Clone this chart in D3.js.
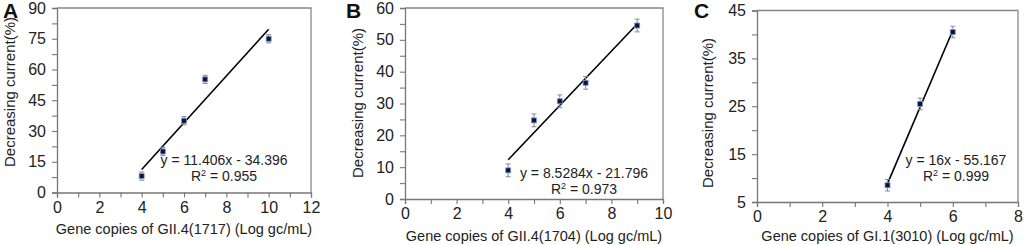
<!DOCTYPE html>
<html>
<head>
<meta charset="utf-8">
<script src="https://cdn.jsdelivr.net/npm/d3@7"></script>
<style>
  body { margin: 0; background: #fff; }
  svg { display: block; font-family: "Liberation Sans", Arial, sans-serif; }
</style>
</head>
<body>
<svg id="chart" width="1024" height="245"></svg>
<script>
// panel A - GII.4(1717)
const xA = [4, 5, 6, 7, 10];
const yA = [8, 20, 35, 55.2, 75];
const errA = [2, 2, 2, 2, 2];
// panel B - GII.4(1704)
const xB = [4, 5, 6, 7, 9];
const yB = [9, 24.7, 30.7, 36.5, 54.5];
const errB = [2, 2, 2, 2, 2];
// panel C - GI.1(3010)
const xC = [4, 5, 6];
const yC = [8.5, 25.5, 40.5];
const errC = [1.2, 1.2, 1.2];

const panelLetters = ["A", "B", "C"];
const xTitles = [
    "Gene copies of GII.4(1717) (Log gc/mL)",
    "Gene copies of GII.4(1704) (Log gc/mL)",
    "Gene copies of GI.1(3010) (Log gc/mL)"
];
const yTitle = "Decreasing current(%)";
const slopes = [11.406, 8.5284, 16];
const intercepts = [-34.396, -21.796, -55.167];
const eqTexts = ["y = 11.406x - 34.396", "y = 8.5284x - 21.796", "y = 16x - 55.167"];
const r2Texts = ["0.955", "0.973", "0.999"];

const panels = [
    { x: xA, y: yA, err: errA, xDom: [0, 12], yDom: [0, 90], yStep: 15, xr: [57, 311], yr: [192.5, 8],
      letter: [3, 18], yLab: [10, 92], eq: [224, 165, 181] },
    { x: xB, y: yB, err: errB, xDom: [0, 10], yDom: [0, 60], yStep: 10, xr: [405, 663], yr: [199, 8],
      letter: [346, 18], yLab: [358, 103], eq: [584, 178, 194] },
    { x: xC, y: yC, err: errC, xDom: [0, 8], yDom: [5, 45], yStep: 10, xr: [757, 1018], yr: [202, 10.5],
      letter: [694, 18], yLab: [708, 113], eq: [956, 165, 181] }
];

const svg = d3.select("#chart");

panels.forEach((p, i) => {
    const scX = d3.scaleLinear().domain(p.xDom).range(p.xr);
    const scY = d3.scaleLinear().domain(p.yDom).range(p.yr);

    // frame (top + right)
    svg.append("path")
        .attr("d", `M${p.xr[0]},${p.yr[1]}H${p.xr[1]}V${p.yr[0]}`)
        .attr("fill", "none")
        .attr("stroke", "#888")
        .attr("stroke-width", 1.3);

    // x axis: minor ticks every 1, labels on even
    const xMinor = d3.range(p.xDom[0], p.xDom[1] + 1, 1);
    const axX = svg.append("g")
        .attr("transform", `translate(0,${p.yr[0]})`)
        .call(d3.axisBottom(scX).tickValues(xMinor).tickSize(5).tickPadding(4)
            .tickFormat(d => d % 2 === 0 ? d : ""));
    axX.select(".domain").attr("stroke", "#777").attr("stroke-width", 1.3);
    axX.selectAll(".tick line").attr("stroke", "#777").attr("stroke-width", 1.1);
    axX.selectAll("text").attr("font-size", 16).attr("fill", "#222").attr("font-family", null);

    // y axis: major with labels, minor halfway
    const yMinor = d3.range(p.yDom[0], p.yDom[1] + 0.01, p.yStep / 2);
    const axY = svg.append("g")
        .attr("transform", `translate(${p.xr[0]},0)`)
        .call(d3.axisLeft(scY).tickValues(yMinor).tickSize(5).tickPadding(6)
            .tickFormat(d => ((d - p.yDom[0]) % p.yStep === 0) ? d : ""));
    axY.select(".domain").attr("stroke", "#777").attr("stroke-width", 1.3);
    axY.selectAll(".tick line").attr("stroke", "#777").attr("stroke-width", 1.1);
    axY.selectAll("text").attr("font-size", 16).attr("fill", "#222").attr("font-family", null);

    // axis titles
    svg.append("text")
        .attr("x", (p.xr[0] + p.xr[1]) / 2)
        .attr("y", i === 0 ? 234 : 241)
        .attr("text-anchor", "middle")
        .attr("font-size", 14.5)
        .attr("fill", "#222")
        .text(xTitles[i]);

    svg.append("text")
        .attr("transform", `translate(${p.yLab[0] + 5},${p.yLab[1]}) rotate(-90)`)
        .attr("text-anchor", "middle")
        .attr("font-size", 15)
        .attr("fill", "#222")
        .text(yTitle);

    // panel letter
    svg.append("text")
        .attr("x", p.letter[0])
        .attr("y", p.letter[1])
        .attr("font-size", 21)
        .attr("font-weight", "bold")
        .attr("fill", "#111")
        .text(panelLetters[i]);

    // trend line
    const x0 = d3.min(p.x), x1 = d3.max(p.x);
    svg.append("line")
        .attr("x1", scX(x0)).attr("y1", scY(slopes[i] * x0 + intercepts[i]))
        .attr("x2", scX(x1)).attr("y2", scY(slopes[i] * x1 + intercepts[i]))
        .attr("stroke", "#000")
        .attr("stroke-width", 1.6);

    const pts = p.x.map((v, k) => ({ x: v, y: p.y[k], e: p.err[k] }));

    // error bars
    const eb = svg.append("g").attr("stroke", "#8a8a8a").attr("stroke-width", 1);
    eb.selectAll(".ev").data(pts).enter().append("line")
        .attr("x1", d => scX(d.x)).attr("x2", d => scX(d.x))
        .attr("y1", d => scY(d.y - d.e)).attr("y2", d => scY(d.y + d.e));
    eb.selectAll(".et").data(pts).enter().append("line")
        .attr("x1", d => scX(d.x) - 2.5).attr("x2", d => scX(d.x) + 2.5)
        .attr("y1", d => scY(d.y + d.e)).attr("y2", d => scY(d.y + d.e));
    eb.selectAll(".eb").data(pts).enter().append("line")
        .attr("x1", d => scX(d.x) - 2.5).attr("x2", d => scX(d.x) + 2.5)
        .attr("y1", d => scY(d.y - d.e)).attr("y2", d => scY(d.y - d.e));

    // markers
    svg.append("g").selectAll("rect").data(pts).enter().append("rect")
        .attr("x", d => scX(d.x) - 2.5)
        .attr("y", d => scY(d.y) - 2.5)
        .attr("width", 5).attr("height", 5)
        .attr("fill", "#0b1640")
        .attr("stroke", "#7d9ad0")
        .attr("stroke-width", 0.8);

    // equation
    svg.append("text")
        .attr("x", p.eq[0]).attr("y", p.eq[1])
        .attr("text-anchor", "middle")
        .attr("font-size", 14)
        .attr("fill", "#222")
        .text(eqTexts[i]);

    const r2 = svg.append("text")
        .attr("x", p.eq[0]).attr("y", p.eq[2])
        .attr("text-anchor", "middle")
        .attr("font-size", 14)
        .attr("fill", "#222");
    r2.append("tspan").text("R");
    r2.append("tspan").attr("font-size", 9).attr("dy", -5).text("2");
    r2.append("tspan").attr("dy", 5).text(" = " + r2Texts[i]);
});
</script>
</body>
</html>
